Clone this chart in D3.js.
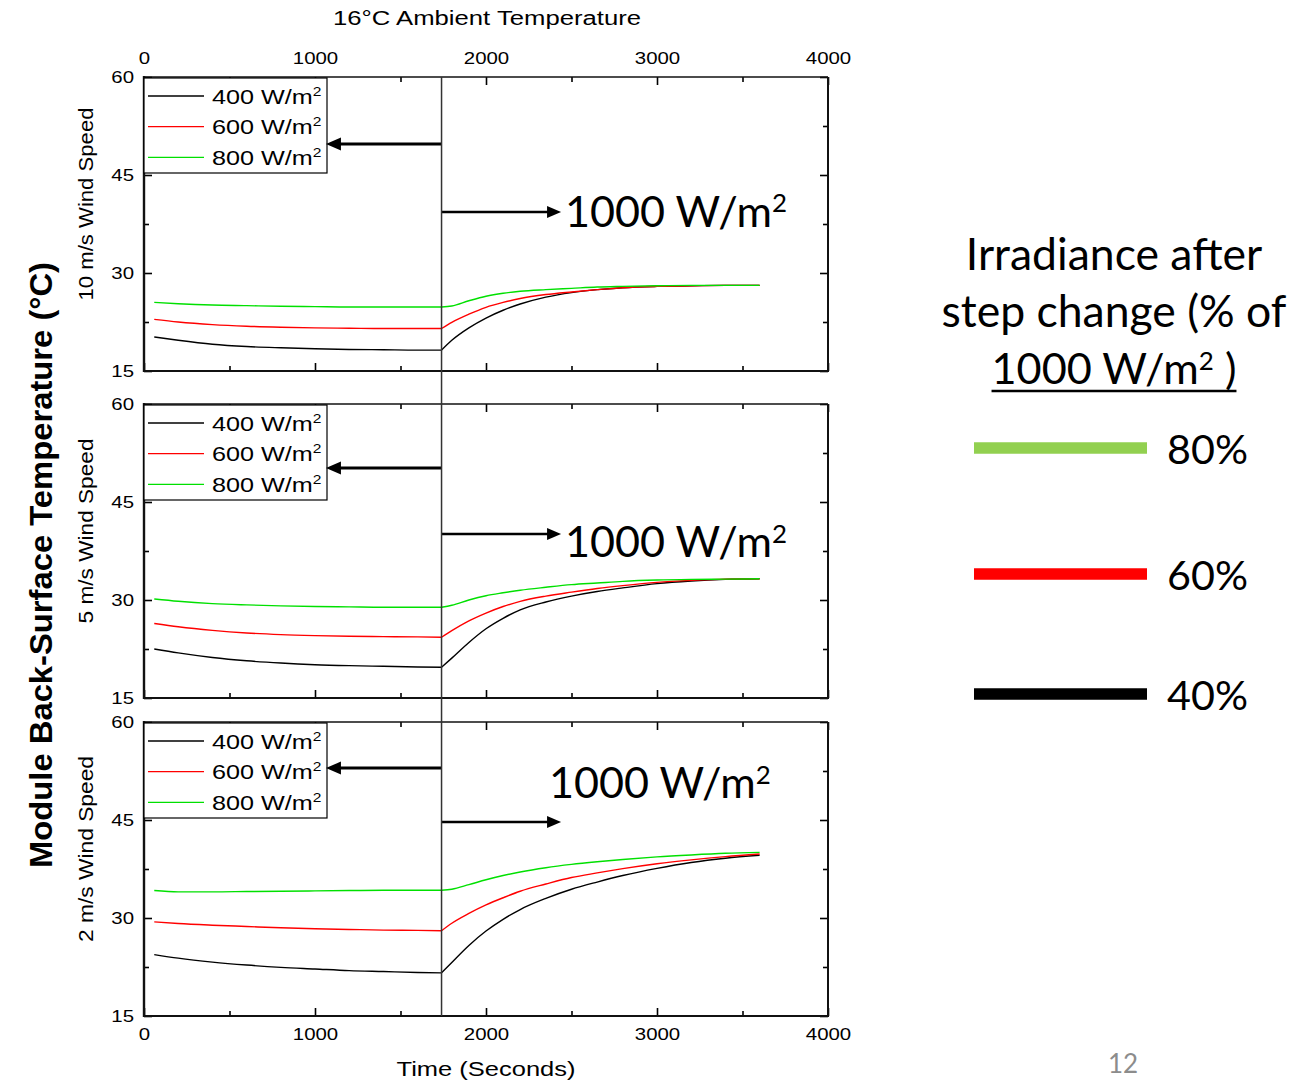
<!DOCTYPE html>
<html><head><meta charset="utf-8">
<script src="https://cdn.jsdelivr.net/npm/d3@7"></script>
<style>body{margin:0;background:#fff}svg{display:block}</style>
</head><body>
<svg id="c" width="1304" height="1080"></svg>
<script>
// ---------------- DATA ----------------
const times = [60,200,400,600,800,1000,1200,1400,1600,1740,1800,1900,2000,2100,2200,2350,2500,2650,2800,3000,3200,3400,3600];
const stepIndex = 9; // 1740 s: step change to 1000 W/m2

// 10 m/s wind speed
const wind10_400 = [20.2,19.7,19.1,18.75,18.55,18.4,18.3,18.25,18.2,18.2,19.7,21.6,23.1,24.3,25.25,26.3,27.0,27.45,27.75,27.95,28.05,28.1,28.1];
const wind10_600 = [22.9,22.5,22.1,21.85,21.7,21.6,21.55,21.5,21.5,21.5,22.45,23.7,24.75,25.5,26.1,26.7,27.1,27.45,27.75,27.95,28.05,28.1,28.1];
const wind10_800 = [25.5,25.3,25.1,25.0,24.9,24.85,24.8,24.8,24.8,24.8,24.95,25.75,26.45,26.9,27.2,27.45,27.65,27.85,27.95,28.05,28.1,28.1,28.1];
// 5 m/s wind speed
const wind5_400 = [22.5,21.9,21.2,20.7,20.35,20.1,19.95,19.85,19.75,19.7,21.1,23.5,25.6,27.2,28.5,29.7,30.6,31.3,31.85,32.5,32.9,33.15,33.25];
const wind5_600 = [26.4,25.9,25.35,24.95,24.7,24.55,24.45,24.4,24.35,24.3,25.3,26.8,28.0,29.0,29.8,30.6,31.2,31.75,32.2,32.7,33.0,33.2,33.25];
const wind5_800 = [30.15,29.8,29.45,29.25,29.1,29.0,28.95,28.9,28.9,28.9,29.2,30.0,30.65,31.1,31.5,31.95,32.35,32.6,32.85,33.05,33.15,33.2,33.25];
// 2 m/s wind speed
const wind2_400 = [24.4,23.85,23.25,22.8,22.45,22.2,21.95,21.8,21.65,21.6,23.2,25.8,28.0,29.8,31.3,33.0,34.4,35.5,36.5,37.6,38.5,39.15,39.6];
const wind2_600 = [29.4,29.15,28.9,28.7,28.5,28.35,28.25,28.15,28.1,28.05,29.2,30.7,32.0,33.1,34.1,35.2,36.2,36.9,37.55,38.3,38.9,39.4,39.8];
const wind2_800 = [34.2,34.0,34.0,34.05,34.1,34.15,34.2,34.25,34.25,34.25,34.4,35.1,35.85,36.5,37.05,37.7,38.2,38.6,38.95,39.35,39.65,39.9,40.05];

const panelLabels = ["10 m/s Wind Speed","5 m/s Wind Speed","2 m/s Wind Speed"];
const seriesLabels = ["400","600","800"];
const pctLabels = ["80%","60%","40%"];
const xTicks = [0,1000,2000,3000,4000];
const xMinor = [500,1500,2500,3500];
const yTicks = [15,30,45,60];
const yMinor = [22.5,37.5,52.5];
const stepTime = 1740;
// annotation anchors (data units)
const leftArrowTo = 1064, rightArrowTo = 2439;
const leftArrowY = [49.75,50.2,52.95];
const rightArrowY = [39.33,40.1,44.7];
const annoX = [2462,2462,2368];
const annoY = [37.1,36.6,48.4];

// ---------------- LAYOUT ----------------
const svg = d3.select('#c');
const L = 144, R = 828, PH = 294;
const tops = [77,404,722];
const SF = 'Liberation Sans, Arial, sans-serif';
const CF = 'Lato, Open Sans, sans-serif';
const lineColors = ['#000000','#ff0000','#00e000'];
const panelData = [[wind10_400,wind10_600,wind10_800],[wind5_400,wind5_600,wind5_800],[wind2_400,wind2_600,wind2_800]];
const x = d3.scaleLinear().domain([0,4000]).range([L,R]);

function stretch(sel,k){
  sel.each(function(){
    const w=this.getComputedTextLength();
    if(w>0){this.setAttribute('textLength',w*k);this.setAttribute('lengthAdjust','spacingAndGlyphs');}
  });
}
// text "1000 W/m" + superscript 2 (+ optional tail), sized to a target width
function unitText(parent, xx, yy, anchor, targetW, tail){
  const t = parent.append('text').attr('x',xx).attr('y',yy).attr('text-anchor',anchor)
    .attr('font-family',CF).attr('fill','#000');
  const build = (fs)=>{
    t.selectAll('*').remove();
    t.attr('font-size',fs);
    t.append('tspan').text('1000 W/m');
    t.append('tspan').attr('font-size',fs*0.6).attr('dy',-fs*0.33).text('2');
    if(tail) t.append('tspan').attr('dy',fs*0.33).text(tail);
  };
  build(40);
  const w = t.node().getBBox().width;
  const fs = 40*targetW/w;
  build(fs);
  return t;
}

panelData.forEach((series,i)=>{
  const top = tops[i];
  const y = d3.scaleLinear().domain([15,60]).range([top+PH,top]);
  const g = svg.append('g');

  const styleAxis = (ax)=>{
    ax.select('.domain').remove();
    ax.selectAll('line').attr('stroke','#000').attr('stroke-width',1.6);
    ax.selectAll('text').attr('fill','#000').attr('font-size',17).attr('font-family',SF);
  };
  // bottom
  const bAx = g.append('g').attr('transform',`translate(0,${top+PH})`)
    .call(d3.axisBottom(x).tickValues(xTicks).tickSizeInner(-8).tickSizeOuter(0).tickPadding(12)
      .tickFormat(i===2?d3.format('d'):()=>''));
  styleAxis(bAx); stretch(bAx.selectAll('text'),1.2);
  styleAxis(g.append('g').attr('transform',`translate(0,${top+PH})`)
    .call(d3.axisBottom(x).tickValues(xMinor).tickSizeInner(-5).tickSizeOuter(0).tickFormat(()=>'')));
  // top
  const tAx = g.append('g').attr('transform',`translate(0,${top})`)
    .call(d3.axisTop(x).tickValues(xTicks).tickSizeInner(-8).tickSizeOuter(0).tickPadding(13)
      .tickFormat(i===0?d3.format('d'):()=>''));
  styleAxis(tAx); stretch(tAx.selectAll('text'),1.2);
  styleAxis(g.append('g').attr('transform',`translate(0,${top})`)
    .call(d3.axisTop(x).tickValues(xMinor).tickSizeInner(-5).tickSizeOuter(0).tickFormat(()=>'')));
  // left
  const lAx = g.append('g').attr('transform',`translate(${L},0)`)
    .call(d3.axisLeft(y).tickValues(yTicks).tickSizeInner(-8).tickSizeOuter(0).tickPadding(10).tickFormat(d3.format('d')));
  styleAxis(lAx); stretch(lAx.selectAll('text'),1.2);
  styleAxis(g.append('g').attr('transform',`translate(${L},0)`)
    .call(d3.axisLeft(y).tickValues(yMinor).tickSizeInner(-5).tickSizeOuter(0).tickFormat(()=>'')));
  // right
  styleAxis(g.append('g').attr('transform',`translate(${R},0)`)
    .call(d3.axisRight(y).tickValues(yTicks).tickSizeInner(-8).tickSizeOuter(0).tickFormat(()=>'')));
  styleAxis(g.append('g').attr('transform',`translate(${R},0)`)
    .call(d3.axisRight(y).tickValues(yMinor).tickSizeInner(-5).tickSizeOuter(0).tickFormat(()=>'')));

  // frame
  g.append('line').attr('x1',L).attr('x2',R).attr('y1',top).attr('y2',top).attr('stroke','#111').attr('stroke-width',1.6);
  g.append('line').attr('x1',R).attr('x2',R).attr('y1',top).attr('y2',top+PH).attr('stroke','#111').attr('stroke-width',2);
  g.append('line').attr('x1',L).attr('x2',R+1).attr('y1',top+PH).attr('y2',top+PH).attr('stroke','#111').attr('stroke-width',2.2);
  g.append('line').attr('x1',L).attr('x2',L).attr('y1',top-1).attr('y2',top+PH+1).attr('stroke','#111').attr('stroke-width',2.4);

  // series lines (two phases, each smooth)
  const line = d3.line().x(d=>x(d[0])).y(d=>y(d[1])).curve(d3.curveMonotoneX);
  series.forEach((vals,k)=>{
    const pts = times.map((t,j)=>[t,vals[j]]);
    const p1 = pts.slice(0,stepIndex+1), p2 = pts.slice(stepIndex);
    [p1,p2].forEach(p=>g.append('path').attr('d',line(p)).attr('fill','none')
      .attr('stroke',lineColors[k]).attr('stroke-width',1.4));
  });

  // legend box
  const lg = g.append('g');
  lg.append('rect').attr('x',L).attr('y',top+1).attr('width',183).attr('height',95)
    .attr('fill','#fff').attr('stroke','#000').attr('stroke-width',1.2);
  seriesLabels.forEach((lab,k)=>{
    const ry = top+19+k*30.7;
    lg.append('line').attr('x1',148).attr('x2',204).attr('y1',ry).attr('y2',ry)
      .attr('stroke',lineColors[k]).attr('stroke-width',1.3);
    const t = lg.append('g').attr('transform',`translate(212,${ry+7.5}) scale(1.2,1)`)
      .append('text').attr('font-family',SF).attr('font-size',21).attr('fill','#000');
    t.append('tspan').text(lab+' W/m');
    t.append('tspan').attr('font-size',13).attr('dy',-8).text('2');
  });

  // arrows
  const ly = y(leftArrowY[i]);
  g.append('line').attr('x1',x(stepTime)).attr('x2',x(leftArrowTo)+14).attr('y1',ly).attr('y2',ly)
    .attr('stroke','#000').attr('stroke-width',3);
  const lt = x(leftArrowTo);
  g.append('path').attr('d',`M${lt},${ly} L${lt+15},${ly-6.5} L${lt+15},${ly+6.5} Z`).attr('fill','#000');
  const ry2 = y(rightArrowY[i]);
  g.append('line').attr('x1',x(stepTime)).attr('x2',x(rightArrowTo)-12).attr('y1',ry2).attr('y2',ry2)
    .attr('stroke','#000').attr('stroke-width',2.6);
  const rt = x(rightArrowTo);
  g.append('path').attr('d',`M${rt},${ry2} L${rt-14},${ry2-6} L${rt-14},${ry2+6} Z`).attr('fill','#000');

  // annotation text
  unitText(g, x(annoX[i]), y(annoY[i]), 'start', 222, null);

  // panel label (rotated)
  const cy = top+PH/2-20;
  svg.append('text').attr('transform',`translate(93,${cy}) rotate(-90)`)
    .attr('text-anchor','middle').attr('font-family',SF).attr('font-size',21).attr('fill','#000')
    .attr('textLength',[193,185,186][i]).attr('lengthAdjust','spacingAndGlyphs')
    .text(panelLabels[i]);
});

// step-change vertical line
svg.append('line').attr('x1',x(stepTime)).attr('x2',x(stepTime)).attr('y1',tops[0]).attr('y2',tops[2]+PH)
  .attr('stroke','#333').attr('stroke-width',1.5);

// titles
svg.append('text').attr('x',487).attr('y',25).attr('text-anchor','middle')
  .attr('font-family',SF).attr('font-size',20).attr('fill','#000')
  .attr('textLength',308).attr('lengthAdjust','spacingAndGlyphs').text('16°C Ambient Temperature');
svg.append('text').attr('x',486).attr('y',1076).attr('text-anchor','middle')
  .attr('font-family',SF).attr('font-size',21).attr('fill','#000')
  .attr('textLength',179).attr('lengthAdjust','spacingAndGlyphs').text('Time (Seconds)');
svg.append('text').attr('transform','translate(52,565) rotate(-90)').attr('text-anchor','middle')
  .attr('font-family',SF).attr('font-weight','bold').attr('font-size',32).attr('fill','#000')
  .attr('textLength',606).attr('lengthAdjust','spacingAndGlyphs').text('Module Back-Surface Temperature (°C)');

// right-hand legend
const rl = svg.append('g');
const t1 = rl.append('text').attr('x',1114).attr('y',270).attr('text-anchor','middle')
  .attr('font-family',CF).attr('font-size',40).attr('fill','#000').text('Irradiance after');
const t2 = rl.append('text').attr('x',1114).attr('y',327).attr('text-anchor','middle')
  .attr('font-family',CF).attr('font-size',40).attr('fill','#000').text('step change (% of');
const w12 = t1.node().getBBox().width + t2.node().getBBox().width;
const fs = 40*(297+345)/w12;
t1.attr('font-size',fs); t2.attr('font-size',fs);
const t3 = unitText(rl, 1114, 384, 'middle', 245, ' )');
const b3 = t3.node().getBBox();
rl.append('line').attr('x1',b3.x).attr('x2',b3.x+b3.width).attr('y1',391).attr('y2',391)
  .attr('stroke','#000').attr('stroke-width',2.5);
const legendColors = ['#92d050','#ff0000','#000000'];
const legendY = [448,574,694];
pctLabels.forEach((p,k)=>{
  rl.append('line').attr('x1',974).attr('x2',1147).attr('y1',legendY[k]).attr('y2',legendY[k])
    .attr('stroke',legendColors[k]).attr('stroke-width',11.5);
  const pt = rl.append('text').attr('x',1167).attr('y',legendY[k]+16).attr('font-family',CF)
    .attr('font-size',44).attr('fill','#000').text(p);
  pt.attr('font-size',44*81/pt.node().getBBox().width);
});

// page number
svg.append('text').attr('x',1123).attr('y',1073).attr('text-anchor','middle')
  .attr('font-family',CF).attr('font-size',26).attr('fill','#8c8c8c').text('12');
</script>
</body></html>
